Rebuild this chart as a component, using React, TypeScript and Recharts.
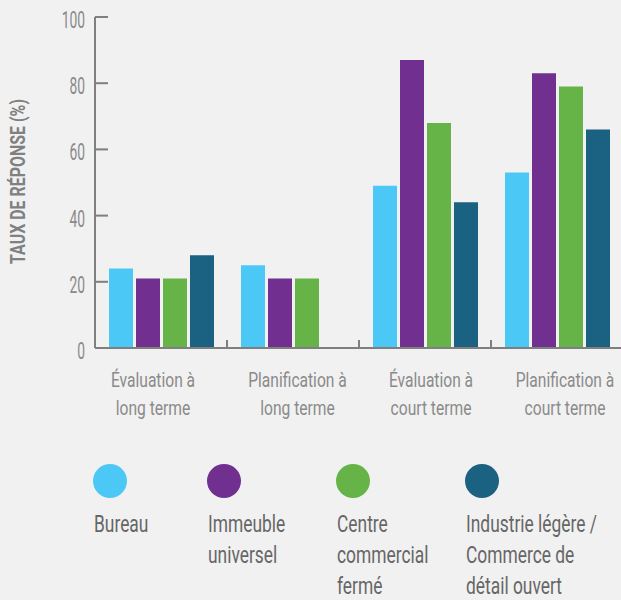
import React from 'react';
import { BarChart, Bar, XAxis, YAxis } from 'recharts';

// categories (two display lines each) and series values
const categoryLines = [
  ['Évaluation à', 'long terme'],
  ['Planification à', 'long terme'],
  ['Évaluation à', 'court terme'],
  ['Planification à', 'court terme'],
];
const categories = categoryLines.map((l) => l.join(' '));

const seriesNames = [
  'Bureau',
  'Immeuble\nuniversel',
  'Centre\ncommercial\nfermé',
  'Industrie légère /\nCommerce de\ndétail ouvert',
];
const bureau = [24, 25, 49, 53];
const immeuble = [21, 21, 87, 83];
const centre = [21, 21, 68, 79];
const industrie = [28, 0, 44, 66];

const yTicks = [0, 20, 40, 60, 80, 100];

const colors = ['#4bc8f5', '#712f8f', '#66b348', '#1b6181'];
const keys = ['bureau', 'immeuble', 'centre', 'industrie'];

const data = categories.map((name, i) => ({
  name,
  bureau: bureau[i],
  immeuble: immeuble[i],
  centre: centre[i],
  industrie: industrie[i],
}));

// no condensed DIN available, so squeeze Roboto horizontally
const FONT = 'Roboto, "DejaVu Sans Condensed", sans-serif';
const AXIS = '#7f7f7f';

// labels in the reference are not exactly centred on their groups
const labelShift = [-8, 4.5, 6, 8];

const XTick = (props: any) => {
  const { x, y, payload, index } = props;
  const half = payload && payload.offset ? payload.offset : 66;
  const lines = categoryLines[index] || [];
  const cx = x + labelShift[index];
  return (
    <g>
      {index > 0 && (
        <line x1={x - half} x2={x - half} y1={y - 8} y2={y} stroke={AXIS} strokeWidth={2} />
      )}
      {lines.map((l: string, i: number) => (
        <text
          key={i}
          transform={`translate(${cx},${y + 39 + i * 28}) scale(0.8,1)`}
          textAnchor="middle"
          fill="#8a8a8a"
          fontFamily={FONT}
          fontSize={19.5}
        >
          {l}
        </text>
      ))}
    </g>
  );
};

const YTick = (props: any) => {
  const { x, y, payload } = props;
  return (
    <g>
      <line x1={x} x2={x + 13} y1={y} y2={y} stroke={AXIS} strokeWidth={2} />
      <text
        transform={`translate(${x - 10},${y + 11}) scale(0.6,1)`}
        textAnchor="end"
        fill="#8a8a8a"
        fontFamily={FONT}
        fontSize={23}
      >
        {payload.value}
      </text>
    </g>
  );
};

const YTitle = (props: any) => {
  const { viewBox } = props;
  const cx = viewBox.x - 17;
  const cy = viewBox.y + viewBox.height / 2 - 1;
  return (
    <text
      transform={`translate(${cx},${cy}) rotate(-90) scale(0.76,1)`}
      textAnchor="middle"
      dominantBaseline="central"
      fill="#808080"
      fontFamily={FONT}
      fontWeight="bold"
      fontSize={21}
    >
      TAUX DE RÉPONSE (%)
    </text>
  );
};

const legendLeft = [93, 207, 336, 465];

function ChartLegend() {
  return (
    <svg
      width={621}
      height={136}
      style={{ position: 'absolute', left: 0, top: 464, display: 'block' }}
    >
      {seriesNames.map((name, i) => (
        <g key={name}>
          <circle cx={legendLeft[i] + 17} cy={17} r={17} fill={colors[i]} />
          {name.split('\n').map((line, j) => (
            <text
              key={j}
              transform={`translate(${legendLeft[i] + 1},${68 + j * 31}) scale(0.71,1)`}
              fill="#666"
              fontFamily={FONT}
              fontSize={24.5}
            >
              {line}
            </text>
          ))}
        </g>
      ))}
    </svg>
  );
}

export default function App() {
  return (
    <div
      style={{
        position: 'absolute',
        left: 0,
        top: 0,
        width: 621,
        height: 600,
        overflow: 'hidden',
        background: '#f1f1f1',
      }}
    >
      <BarChart
        width={623}
        height={600}
        data={data}
        margin={{ top: 17, right: 0, left: 35, bottom: 222 }}
        barCategoryGap={14}
        barGap={3}
      >
        <XAxis
          dataKey="name"
          interval={0}
          tickSize={0}
          tickMargin={0}
          tickLine={false}
          axisLine={{ stroke: AXIS, strokeWidth: 2 }}
          tick={<XTick />}
          height={30}
        />
        <YAxis
          domain={[0, 100]}
          ticks={yTicks}
          interval={0}
          width={60}
          tickSize={0}
          tickMargin={0}
          tickLine={false}
          axisLine={{ stroke: AXIS, strokeWidth: 2 }}
          tick={<YTick />}
          label={<YTitle />}
        />
        {keys.map((k, i) => (
          <Bar
            key={k}
            dataKey={k}
            name={seriesNames[i]}
            fill={colors[i]}
            isAnimationActive={false}
          />
        ))}
      </BarChart>
      <ChartLegend />
    </div>
  );
}
